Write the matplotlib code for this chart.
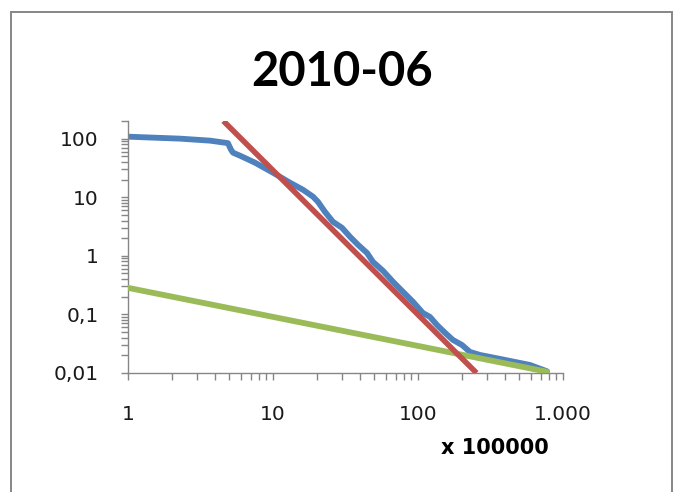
import matplotlib
matplotlib.use("Agg")
import matplotlib.pyplot as plt
from matplotlib.ticker import FixedLocator, LogLocator, NullFormatter
from matplotlib.patches import Rectangle

# ---- data ----
title = "2010-06"
xlabel = "x 100000"

blue_x = [1.00, 2.28, 3.68, 4.89, 5.13, 5.30, 5.92, 7.51, 10.0, 13.1, 16.1, 18.9,
          20.4, 22.8, 25.9, 29.9, 34.0, 38.6, 44.5, 48.9, 57.4, 67.3, 78.8, 92.4,
          108, 121, 135, 154, 174, 201, 228, 268, 368, 592, 776]
blue_y = [108, 100, 92.4, 83.8, 64.9, 57.6, 51.2, 38.9, 26.2, 17.7, 13.4, 10.2,
          8.38, 5.65, 3.81, 3.01, 2.11, 1.54, 1.12, 0.789, 0.554, 0.360, 0.243, 0.164,
          0.106, 0.0906, 0.0662, 0.0483, 0.0367, 0.0301, 0.0229, 0.0203, 0.0174, 0.0137, 0.0107]

red_x = [4.55, 253.5]
red_y = [200, 0.01]

green_x = [1, 776]
green_y = [0.284, 0.0105]

xticks = [1, 10, 100, 1000]
xtick_labels = ["1", "10", "100", "1.000"]
yticks = [0.01, 0.1, 1, 10, 100]
ytick_labels = ["0,01", "0,1", "1", "10", "100"]

# ---- figure ----
plt.rcParams['font.family'] = ['DejaVu Sans']
W, H = 678, 492
fig = plt.figure(figsize=(W / 100, H / 100), dpi=100)
fig.patch.set_facecolor("white")

# outer chart frame
fig.patches.append(Rectangle((10.5 / W, -0.05), (672 - 10.5) / W, 1.05 - 12 / H,
                             transform=fig.transFigure, fill=False,
                             edgecolor="#868686", linewidth=1.4))

ax = fig.add_axes([128 / W, 1 - 373 / H, (563 - 128) / W, (373 - 121) / H])
ax.set_xscale("log")
ax.set_yscale("log")

ax.plot(blue_x, blue_y, color="#4F81BD", lw=4.2, solid_capstyle="round",
        solid_joinstyle="round", zorder=2)
ax.plot(green_x, green_y, color="#9BBB59", lw=4.2, solid_capstyle="round", zorder=3)
ax.plot(red_x, red_y, color="#C0504D", lw=4.0, solid_capstyle="butt", zorder=4)

ax.set_xlim(1, 1000)
ax.set_ylim(0.01, 200)

for s in ["top", "right"]:
    ax.spines[s].set_visible(False)
for s in ["left", "bottom"]:
    ax.spines[s].set_color("#868686")
    ax.spines[s].set_linewidth(1.0)

ax.xaxis.set_major_locator(FixedLocator(xticks))
ax.set_xticklabels(xtick_labels)
ax.yaxis.set_major_locator(FixedLocator(yticks))
ax.set_yticklabels(ytick_labels)
ax.xaxis.set_minor_locator(LogLocator(base=10, subs=range(2, 10)))
ax.yaxis.set_minor_locator(LogLocator(base=10, subs=range(2, 10)))
ax.xaxis.set_minor_formatter(NullFormatter())
ax.yaxis.set_minor_formatter(NullFormatter())

ax.tick_params(which="both", direction="out", color="#868686", width=1.0, length=5)
ax.tick_params(axis="x", which="major", labelsize=14.5, pad=18, labelcolor="#1a1a1a")
ax.tick_params(axis="y", which="major", labelsize=14.5, pad=16, labelcolor="#1a1a1a")

fig.text(342 / W, 1 - 72 / H, title, ha="center", va="center",
         fontsize=34, fontweight="bold", color="black", family=["Lato", "DejaVu Sans"])
fig.text(495 / W, 1 - 448 / H, xlabel, ha="center", va="center",
         fontsize=15, fontweight="bold", color="black")

fig.savefig("out.png", dpi=100, facecolor="white")
